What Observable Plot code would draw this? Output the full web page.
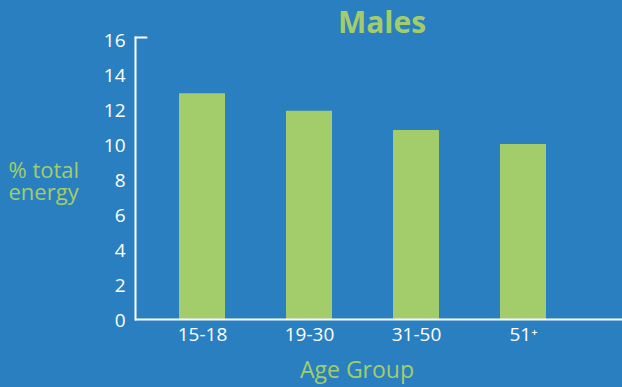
<!DOCTYPE html>
<html>
<head>
<meta charset="utf-8">
<script src="https://cdn.jsdelivr.net/npm/d3@7"></script>
<script src="https://cdn.jsdelivr.net/npm/@observablehq/plot@0.6"></script>
<style>
  html, body { margin: 0; padding: 0; background: #2a7fc1; }
  #chart { width: 622px; height: 387px; }
</style>
</head>
<body>
<div id="chart"></div>
<script>
const ageGroups = ["15-18", "19-30", "31-50", "51+"];
const ageTickLabels = ["15-18", "19-30", "31-50", "51\u207A"];
const energyPct = [12.9, 11.9, 10.8, 10.0];
const yTicks = [0, 2, 4, 6, 8, 10, 12, 14, 16];
const titleText = "Males";
const yLabelLines = ["% total", "energy"];
const xLabelText = "Age Group";

const bg = "#2a7fc1";
const green = "#a3cd6a";

const data = ageGroups.map((g, i) => ({group: g, value: energyPct[i]}));
const tickLabelOf = new Map(ageGroups.map((g, i) => [g, ageTickLabels[i]]));

const lineShape = {
  draw(context, l) { context.moveTo(0, 0); context.lineTo(0, -l); }
};

const chart = Plot.plot({
  width: 622,
  height: 387,
  marginLeft: 135,
  marginRight: 0,
  marginTop: 37,
  marginBottom: 68,
  style: {background: bg, color: "white", fontFamily: "'Open Sans', Lato, sans-serif", fontSize: "19px"},
  x: {domain: ageGroups, paddingInner: 0.571, paddingOuter: 0.4, insetRight: 33, label: null},
  y: {domain: [0, 16], insetTop: 2, label: null},
  marks: [
    Plot.barY(data, {x: "group", y: "value", fill: green}),
    Plot.axisY({ticks: yTicks, tickSize: 0, tickPadding: 10, fontSize: 19, fill: "white", dy: 1}),
    Plot.axisX({tickSize: 0, tickPadding: 8, fontSize: 19, fill: "white", tickFormat: d => tickLabelOf.get(d)}),
    Plot.frame({anchor: "left", stroke: "white", strokeWidth: 2}),
    Plot.ruleY([0], {stroke: "white", strokeWidth: 2}),
    Plot.vector([16], {y: d => d, frameAnchor: "left", rotate: 90, length: 11, anchor: "start", shape: lineShape, stroke: "white", strokeWidth: 2, dy: -2}),
    Plot.text([titleText], {frameAnchor: "top", dx: 3, dy: -5, lineAnchor: "bottom", fill: green, fontSize: 30, fontWeight: "bold"}),
    Plot.text([xLabelText], {frameAnchor: "bottom", dx: -22, dy: 58, lineAnchor: "bottom", fill: green, fontSize: 23}),
    Plot.text([yLabelLines[0]], {frameAnchor: "left", dx: -127, dy: -1, textAnchor: "start", lineAnchor: "bottom", fill: green, fontSize: 22}),
    Plot.text([yLabelLines[1]], {frameAnchor: "left", dx: -127, dy: 21, textAnchor: "start", lineAnchor: "bottom", fill: green, fontSize: 22})
  ]
});
document.getElementById("chart").append(chart);
</script>
</body>
</html>
